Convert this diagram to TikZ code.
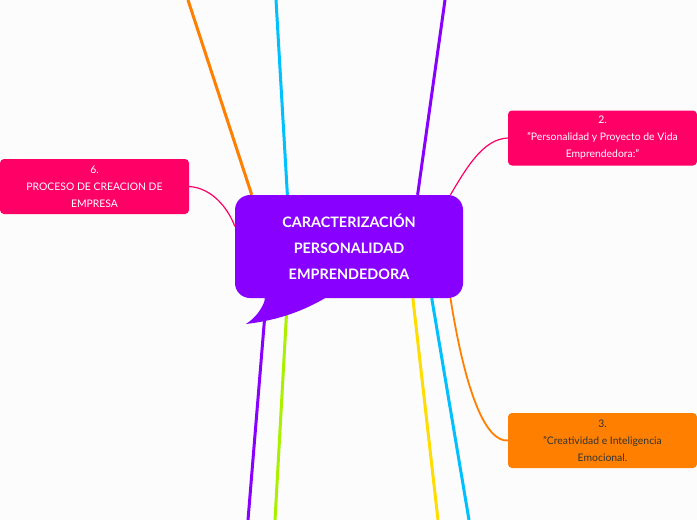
\documentclass[tikz,border=0pt]{standalone}
\usepackage{fontspec}
\setmainfont{Lato}
\usetikzlibrary{backgrounds}
\definecolor{bgpage}{HTML}{FCFCFC}
\definecolor{mmpurple}{HTML}{8800FF}
\definecolor{mmpink}{HTML}{FF0066}
\definecolor{mmorange}{HTML}{FF8000}
\definecolor{mmcyan}{HTML}{00C0FF}
\definecolor{mmyellow}{HTML}{FFDD00}
\definecolor{mmlime}{HTML}{AAF000}
\definecolor{mmtext}{HTML}{333333}

\begin{document}
\begin{tikzpicture}[x=1pt,y=-1pt,font=\fontsize{10.4}{17}\selectfont,
    topic/.style={rounded corners=4pt,minimum width=189pt,minimum height=55pt,
      align=center,inner sep=0pt},
    branch/.style={line width=3pt},
    twig/.style={line width=1.2pt}]
  \useasboundingbox (0,0) rectangle (697,520);

  % Central topic with its speech-bubble tail.
  \node[fill=mmpurple,text=white,rounded corners=15pt,minimum width=228pt,
    minimum height=103pt,align=center,
    font=\bfseries\fontsize{14.4}{26}\selectfont] (root) at (349,246.5)
    {CARACTERIZACIÓN\\PERSONALIDAD\\EMPRENDEDORA};
  \fill[mmpurple] (266,297) .. controls (262,310) and (255,318) .. (246,324)
    .. controls (280,320) and (305,310) .. (327,297) -- cycle;

  % Subtopics.
  \node[topic,fill=mmpink,text=white] (t6) at (94.5,186.5)
    {6.\\PROCESO DE CREACION DE\\EMPRESA};
  \node[topic,fill=mmpink,text=white] (t2) at (602.5,138)
    {2.\\"Personalidad y Proyecto de Vida\\Emprendedora:"};
  \node[topic,fill=mmorange,text=mmtext] (t3) at (602.5,440.5)
    {3.\\"Creatividad e Inteligencia\\Emocional.};

  % Branches, behind the central topic.
  \begin{scope}[on background layer]
    \fill[bgpage] (0,0) rectangle (697,520);
    \foreach \a/\x/\y/\c [count=\i] in {
      152/188/0/mmorange,
      140/276/0/mmcyan,
      37/445/0/mmpurple,
      212/248/520/mmpurple,
      220/275/520/mmlime,
      321/438/520/mmyellow,
      328/469/520/mmcyan} {
      \coordinate (leaf\i) at (\x,\y);
      \draw[branch,\c] (root.\a) -- (leaf\i);
    }
    \draw[twig,mmpink] (t6.east) .. controls (212,188) and (228,208) .. (root.170);
    \draw[twig,mmpink] (root.27) .. controls (468,165) and (484,139) .. (t2.west);
    \draw[twig,mmorange,line width=1.8pt] (root.333)
      .. controls (465,390) and (485,442) .. (t3.west);
  \end{scope}
\end{tikzpicture}
\end{document}
